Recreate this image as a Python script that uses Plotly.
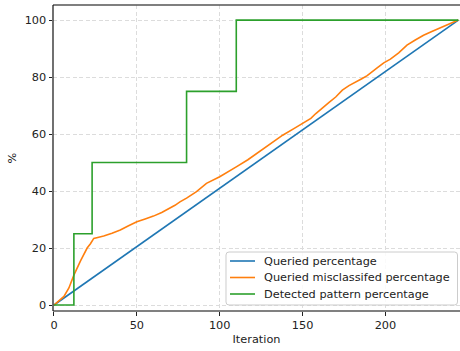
import plotly.graph_objects as go

# Data
queried_x = [0, 244]
queried_y = [0, 100]

misclass_x = [0, 3, 6, 9, 12, 16, 20, 22, 24, 27, 30, 35, 40, 45, 50, 55, 60, 65, 70, 73,
              76, 80, 86, 92, 100, 106, 110, 117, 123, 128, 133, 138, 145, 150, 155, 158,
              162, 166, 170, 174, 178, 182, 186, 189, 192, 195, 199, 203, 208, 213, 218,
              223, 228, 232, 235, 240, 244]
misclass_y = [0, 1.5, 3, 6, 10.5, 15.5, 20, 21.5, 23.4, 23.8, 24.2, 25.2, 26.3, 27.8, 29.2,
              30.2, 31.2, 32.5, 33.9, 35, 36.2, 37.5, 39.8, 42.7, 45, 47, 48.5, 51, 53.5,
              55.5, 57.5, 59.6, 62, 63.7, 65.5, 67.2, 69, 71.1, 73, 75.4, 77, 78.4, 79.5,
              80.5, 82, 83.2, 85, 86.3, 88.5, 91.2, 93, 94.7, 96, 97, 97.8, 99, 100]

pattern_x = [0, 12, 23, 80, 110, 244]
pattern_y = [0, 25, 50, 75, 100, 100]

x_ticks = [0, 50, 100, 150, 200]
y_ticks = [0, 20, 40, 60, 80, 100]

series_names = ["Queried percentage", "Queried misclassifed percentage",
                "Detected pattern percentage"]
series_colors = ["#1f77b4", "#ff7f0e", "#2ca02c"]

FONT = "DejaVu Sans"
FS = 11.3

# plot area geometry (px)
W, H = 460, 351
ML, MR, MT, MB = 53, 0, 5, 40
PW, PH = W - ML - MR, H - MT - MB


def px2paper(px, py):
    return (px - ML) / PW, (H - MB - py) / PH


fig = go.Figure()
fig.add_trace(go.Scatter(x=queried_x, y=queried_y, mode="lines",
                         name=series_names[0],
                         line=dict(color=series_colors[0], width=1.6)))
fig.add_trace(go.Scatter(x=misclass_x, y=misclass_y, mode="lines",
                         name=series_names[1],
                         line=dict(color=series_colors[1], width=1.6)))
fig.add_trace(go.Scatter(x=pattern_x, y=pattern_y, mode="lines", line_shape="hv",
                         name=series_names[2],
                         line=dict(color=series_colors[2], width=1.6)))

axis_common = dict(
    showgrid=True, gridcolor="#dcdcdc", griddash="4px,2.5px", gridwidth=1,
    zeroline=False, showline=False,
    ticks="outside", ticklen=3.5, tickwidth=1, tickcolor="#222",
    tickfont=dict(family=FONT, size=FS, color="#222"),
)

shapes = [
    dict(type="line", xref="paper", yref="paper", x0=0, x1=1, y0=1, y1=1,
         line=dict(color="#555555", width=1.3)),
    dict(type="line", xref="paper", yref="paper", x0=0, x1=1, y0=0, y1=0,
         line=dict(color="#808080", width=2.2)),
    dict(type="line", xref="paper", yref="paper", x0=0, x1=0, y0=0, y1=1,
         line=dict(color="#111111", width=1.2)),
]
annotations = []

# manual legend box (rounded)
bx0, by0, bx1, by1 = 226, 252, 457.5, 305
r = 3
pts = {}
def P(px, py):
    x, y = px2paper(px, py)
    return f"{x:.5f},{y:.5f}"
path = (f"M {P(bx0 + r, by0)} L {P(bx1 - r, by0)} Q {P(bx1, by0)} {P(bx1, by0 + r)} "
        f"L {P(bx1, by1 - r)} Q {P(bx1, by1)} {P(bx1 - r, by1)} "
        f"L {P(bx0 + r, by1)} Q {P(bx0, by1)} {P(bx0, by1 - r)} "
        f"L {P(bx0, by0 + r)} Q {P(bx0, by0)} {P(bx0 + r, by0)} Z")
shapes.append(dict(type="path", xref="paper", yref="paper", path=path,
                   fillcolor="rgba(255,255,255,0.85)",
                   line=dict(color="#cccccc", width=1), layer="above"))
row_y = [261, 277.5, 294]
for name, color, ry in zip(series_names, series_colors, row_y):
    x0, y0 = px2paper(230, ry)
    x1, _ = px2paper(255, ry)
    shapes.append(dict(type="line", xref="paper", yref="paper", x0=x0, x1=x1, y0=y0, y1=y0,
                       line=dict(color=color, width=1.6), layer="above"))
    tx, _ = px2paper(262, ry)
    annotations.append(dict(xref="paper", yref="paper", x=tx, y=y0, text=name,
                            showarrow=False, xanchor="left", yanchor="middle",
                            font=dict(family=FONT, size=FS, color="#222")))

fig.update_layout(
    width=W, height=H,
    margin=dict(l=ML, r=MR, t=MT, b=MB),
    paper_bgcolor="white", plot_bgcolor="white",
    font=dict(family=FONT, size=FS, color="#222"),
    xaxis=dict(range=[-0.6, 245], tickvals=x_ticks,
               title=dict(text="Iteration", font=dict(family=FONT, size=FS), standoff=4),
               **axis_common),
    yaxis=dict(range=[-2.1, 105.3], tickvals=y_ticks,
               title=dict(text="%", font=dict(family=FONT, size=FS), standoff=5),
               **axis_common),
    showlegend=False,
    shapes=shapes,
    annotations=annotations,
)

fig.write_html("out.html")
